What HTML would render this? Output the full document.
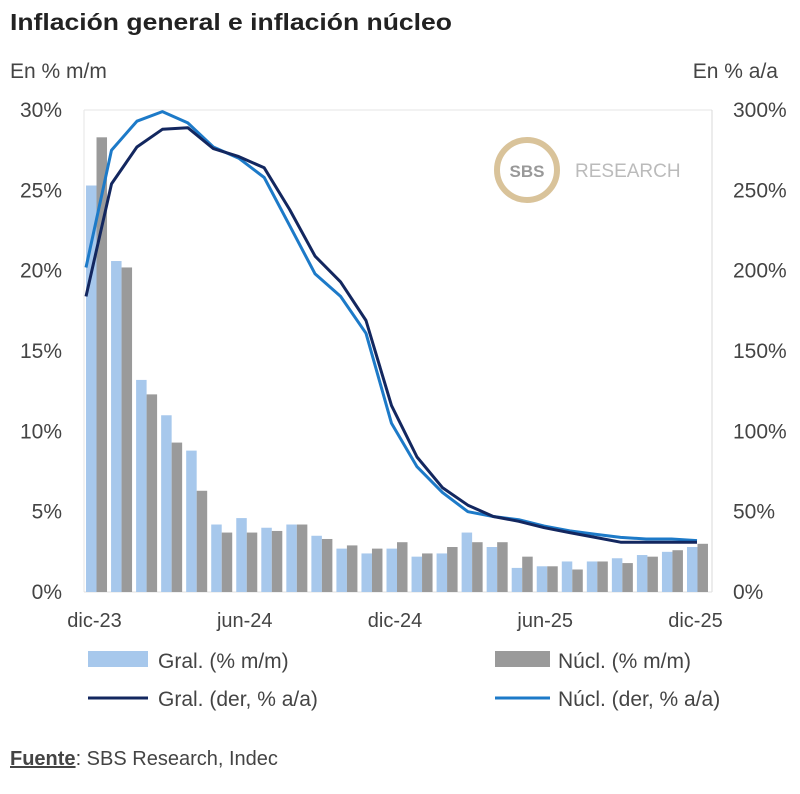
<!DOCTYPE html>
<html><head><meta charset="utf-8"><style>
body{margin:0;background:#fff;font-family:"Liberation Sans",sans-serif;}
svg text{font-family:"Liberation Sans",sans-serif;}
</style></head><body>
<svg width="800" height="789" viewBox="0 0 800 789">
<text x="10" y="30" font-size="23" font-weight="bold" fill="#222" textLength="442" lengthAdjust="spacingAndGlyphs">Inflación general e inflación núcleo</text>
<text x="10" y="78" font-size="21" fill="#444">En % m/m</text>
<text x="778" y="78" font-size="21" fill="#444" text-anchor="end">En % a/a</text>
<line x1="84" y1="110" x2="712" y2="110" stroke="#e6e6e6"/>
<line x1="712" y1="110" x2="712" y2="592" stroke="#d8d8d8"/>
<line x1="84" y1="110" x2="84" y2="592" stroke="#e6e6e6"/>
<line x1="84" y1="592" x2="712" y2="592" stroke="#e0e0e0"/>
<g>
<circle cx="527" cy="170" r="30" fill="#fff" stroke="#d9c39a" stroke-width="6"/>
<text x="527" y="177" font-size="17" font-weight="bold" fill="#999" text-anchor="middle">SBS</text>
<text x="575" y="177" font-size="19" fill="#bbb">RESEARCH</text>
</g>
<g id="bars"></g><g id="lines"></g><g id="axes"></g>
<g>
<rect x="88" y="651" width="60" height="16" fill="#a7c8ec"/>
<text x="158" y="668" font-size="21" fill="#444">Gral. (% m/m)</text>
<rect x="495" y="651" width="55" height="16" fill="#9a9a9a"/>
<text x="558" y="668" font-size="21" fill="#444">Núcl. (% m/m)</text>
<line x1="88" y1="698" x2="148" y2="698" stroke="#13275f" stroke-width="3"/>
<text x="158" y="706" font-size="21" fill="#444">Gral. (der, % a/a)</text>
<line x1="495" y1="698" x2="550" y2="698" stroke="#1d7ac8" stroke-width="3"/>
<text x="558" y="706" font-size="21" fill="#444">Núcl. (der, % a/a)</text>
</g>
<text x="10" y="765" font-size="20" fill="#444"><tspan font-weight="bold" text-decoration="underline">Fuente</tspan>: SBS Research, Indec</text>
</svg>
<script>
const categories=["dic-23","ene-24","feb-24","mar-24","abr-24","may-24","jun-24","jul-24","ago-24","sep-24","oct-24","nov-24","dic-24","ene-25","feb-25","mar-25","abr-25","may-25","jun-25","jul-25","ago-25","sep-25","oct-25","nov-25","dic-25"];
const gralMM=[25.3,20.6,13.2,11.0,8.8,4.2,4.6,4.0,4.2,3.5,2.7,2.4,2.7,2.2,2.4,3.7,2.8,1.5,1.6,1.9,1.9,2.1,2.3,2.5,2.8];
const nuclMM=[28.3,20.2,12.3,9.3,6.3,3.7,3.7,3.8,4.2,3.3,2.9,2.7,3.1,2.4,2.8,3.1,3.1,2.2,1.6,1.4,1.9,1.8,2.2,2.6,3.0];
const gralAA=[184,254,277,288,289,276,271,264,238,209,193,169,116,84,65,54,47,44,40,37,34,31,31,31,31];
const nuclAA=[202,275,293,299,292,277,270,258,228,198,184,161,105,78,62,50,47,45,41,38,36,34,33,33,32];
const leftTicks=["0%","5%","10%","15%","20%","25%","30%"];
const leftTickVals=[0,5,10,15,20,25,30];
const rightTicks=["0%","50%","100%","150%","200%","250%","300%"];
const rightTickVals=[0,50,100,150,200,250,300];
const xLabelIdx=[0,6,12,18,24];

const NS="http://www.w3.org/2000/svg";
const X0=84,X1=710,Y0=592,Y1=110;
const band=(X1-X0)/categories.length;
const xc=i=>X0+band*(i+0.5);
const xl=i=>86+(697-86)*i/(categories.length-1);
const yL=v=>Y0-(v/30)*(Y0-Y1);
const yR=v=>Y0-(v/300)*(Y0-Y1);
function mk(tag,attrs,parent){const e=document.createElementNS(NS,tag);for(const k in attrs)e.setAttribute(k,attrs[k]);parent.appendChild(e);return e;}
const gb=document.getElementById('bars'),gl=document.getElementById('lines'),ga=document.getElementById('axes');
const bw=10.5;
categories.forEach((c,i)=>{
  let r=mk('rect',{x:xc(i)-bw,y:yL(gralMM[i]),width:bw,height:Y0-yL(gralMM[i]),fill:'#a7c8ec'},gb);
  
  
  let r2=mk('rect',{x:xc(i),y:yL(nuclMM[i]),width:bw,height:Y0-yL(nuclMM[i]),fill:'#9a9a9a'},gb);
  
  
});
function line(vals,color,name){
  const d=vals.map((v,i)=>(i?'L':'M')+xl(i).toFixed(1)+','+yR(v).toFixed(1)).join(' ');
  const p=mk('path',{d:d,fill:'none',stroke:color,'stroke-width':3,'stroke-linejoin':'round'},gl);
  
  
}
line(nuclAA,'#1d7ac8','line-nucl-aa');
line(gralAA,'#13275f','line-gral-aa');
leftTickVals.forEach((v,i)=>{
  const t=mk('text',{x:62,y:yL(v)+7,'font-size':21,fill:'#444','text-anchor':'end'},ga);
  t.textContent=leftTicks[i];
  
  
});
rightTickVals.forEach((v,i)=>{
  const t=mk('text',{x:733,y:yR(v)+7,'font-size':21,fill:'#444'},ga);
  t.textContent=rightTicks[i];
  
  
});
xLabelIdx.forEach(i=>{
  const t=mk('text',{x:xc(i)-2,y:627,'font-size':20,fill:'#444','text-anchor':'middle'},ga);
  t.textContent=categories[i];
  
  
});
</script>
</body></html>
